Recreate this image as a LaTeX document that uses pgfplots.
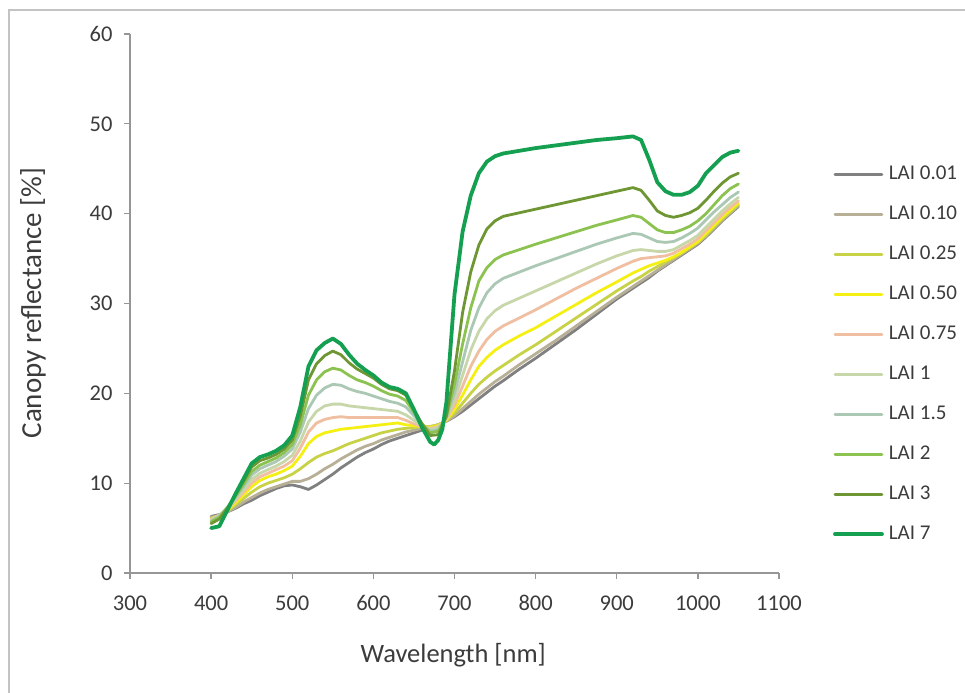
\documentclass[border=0pt]{standalone}
\usepackage{pgfplots}
\pgfplotsset{compat=1.18}
\usepackage{pgfplotstable}
\usepackage{fontspec}
\setmainfont{Carlito}
\definecolor{txt}{RGB}{60,60,60}
\definecolor{axgray}{RGB}{150,150,150}
\definecolor{framegray}{RGB}{195,195,195}
\definecolor{cA}{RGB}{128,128,128}
\definecolor{cB}{RGB}{184,176,150}
\definecolor{cC}{RGB}{200,210,70}
\definecolor{cD}{RGB}{245,240,20}
\definecolor{cE}{RGB}{240,190,160}
\definecolor{cF}{RGB}{200,215,170}
\definecolor{cG}{RGB}{170,200,180}
\definecolor{cH}{RGB}{140,195,80}
\definecolor{cI}{RGB}{110,150,50}
\definecolor{cJ}{RGB}{20,160,80}

\pgfplotstableread{
wl   a     b     c     d     e     f     g     h     i
400  6.3   6.2   6.1   6.0   6.0   5.9   5.8   5.7   5.5
410  6.5   6.4   6.4   6.4   6.4   6.4   6.3   6.2   6.0
420  6.8   6.8   6.9   7.0   7.1   7.2   7.3   7.3   7.2
430  7.2   7.3   7.6   7.8   8.0   8.2   8.4   8.5   8.7
440  7.7   7.9   8.3   8.7   9.0   9.3   9.6   9.9   10.2
450  8.1   8.4   9.0   9.6   10.0  10.4  10.9  11.3  11.8
460  8.6   8.9   9.6   10.3  10.7  11.1  11.6  12.0  12.5
470  9.0   9.3   10.0  10.7  11.1  11.5  12.0  12.4  12.8
480  9.4   9.6   10.3  11.0  11.5  11.9  12.4  12.8  13.2
490  9.7   9.9   10.6  11.4  11.9  12.4  13.0  13.4  13.8
500  9.8   10.2  11.0  11.9  12.5  13.1  13.8  14.3  14.8
510  9.6   10.2  11.6  13.0  13.9  14.7  15.7  16.5  17.5
520  9.3   10.5  12.3  14.4  15.7  16.8  18.3  19.8  21.5
530  9.8   11.0  12.9  15.2  16.7  18.0  19.8  21.5  23.3
540  10.4  11.6  13.3  15.6  17.1  18.6  20.6  22.4  24.2
550  11.0  12.1  13.6  15.8  17.3  18.8  21.0  22.8  24.7
560  11.7  12.7  14.0  16.0  17.4  18.8  20.9  22.6  24.3
570  12.3  13.2  14.4  16.1  17.3  18.6  20.5  22.0  23.4
580  12.9  13.7  14.7  16.2  17.3  18.5  20.2  21.5  22.7
590  13.4  14.1  15.0  16.3  17.3  18.4  20.0  21.2  22.2
600  13.8  14.4  15.3  16.4  17.3  18.3  19.7  20.8  21.7
610  14.3  14.8  15.6  16.5  17.3  18.2  19.4  20.3  21.0
620  14.7  15.1  15.8  16.6  17.3  18.1  19.1  19.9  20.5
630  15.0  15.4  16.0  16.7  17.3  18.0  18.9  19.7  20.3
640  15.3  15.7  16.1  16.5  17.0  17.6  18.5  19.2  19.8
650  15.6  15.9  16.2  16.4  16.6  17.0  17.5  17.9  18.2
660  15.9  16.1  16.3  16.3  16.3  16.4  16.5  16.6  16.6
670  16.2  16.3  16.3  16.2  16.1  16.0  15.8  15.6  15.3
680  16.5  16.5  16.5  16.4  16.3  16.2  16.0  15.8  15.4
690  16.9  16.9  17.0  17.0  17.1  17.2  17.3  17.4  17.5
700  17.4  17.5  17.8  18.2  18.7  19.3  20.0  21.0  22.5
710  18.0  18.3  18.9  19.8  20.8  22.0  23.5  25.5  29.0
720  18.7  19.1  20.0  21.5  23.0  24.8  27.0  29.5  33.5
730  19.4  19.9  21.0  23.0  24.7  26.9  29.5  32.5  36.5
740  20.1  20.6  21.8  24.0  26.0  28.3  31.2  34.0  38.3
750  20.8  21.3  22.5  24.8  26.9  29.2  32.2  34.9  39.2
760  21.4  21.9  23.1  25.4  27.5  29.8  32.8  35.4  39.7
780  22.7  23.2  24.3  26.4  28.4  30.6  33.5  36.0  40.1
800  23.9  24.4  25.4  27.3  29.3  31.4  34.2  36.6  40.5
825  25.5  25.9  26.9  28.6  30.5  32.4  35.0  37.3  41.0
850  27.1  27.5  28.4  29.9  31.7  33.4  35.8  38.0  41.5
875  28.8  29.1  29.9  31.2  32.8  34.4  36.6  38.7  42.0
900  30.5  30.7  31.4  32.4  33.9  35.3  37.3  39.3  42.5
920  31.7  31.9  32.5  33.4  34.7  35.9  37.8  39.8  42.9
930  32.3  32.5  33.0  33.8  35.0  36.0  37.7  39.6  42.6
940  32.9  33.1  33.6  34.2  35.1  35.9  37.3  38.9  41.5
950  33.6  33.7  34.1  34.5  35.2  35.8  36.9  38.2  40.3
960  34.2  34.3  34.6  34.8  35.3  35.8  36.8  37.9  39.8
970  34.8  34.9  35.1  35.2  35.6  36.0  36.9  37.9  39.6
980  35.4  35.5  35.6  35.7  36.1  36.5  37.3  38.2  39.8
990  36.0  36.1  36.2  36.3  36.6  37.0  37.8  38.6  40.1
1000 36.6  36.7  36.8  36.9  37.2  37.6  38.4  39.2  40.6
1010 37.4  37.5  37.6  37.8  38.1  38.5  39.3  40.0  41.5
1020 38.3  38.4  38.5  38.7  39.0  39.4  40.2  41.0  42.5
1030 39.2  39.3  39.4  39.6  39.9  40.3  41.0  42.0  43.4
1040 40.0  40.1  40.2  40.4  40.7  41.1  41.8  42.8  44.1
1050 40.8  40.9  41.0  41.2  41.4  41.8  42.4  43.3  44.5
}\lowlai

\pgfplotstableread{
wl   r
400  5.0
410  5.2
420  7.0
430  8.8
440  10.5
450  12.2
460  12.9
470  13.2
480  13.6
490  14.2
500  15.3
510  18.5
520  23.0
530  24.8
540  25.6
550  26.1
560  25.5
570  24.3
580  23.3
590  22.6
600  22.0
610  21.2
620  20.7
630  20.5
640  20.0
650  18.2
660  16.2
670  14.6
675  14.3
680  14.8
685  16.0
690  19.0
695  25.0
700  31.0
710  38.0
720  42.0
730  44.5
740  45.8
750  46.4
760  46.7
780  47.0
800  47.3
825  47.6
850  47.9
875  48.2
900  48.4
920  48.6
930  48.2
940  46.0
950  43.5
960  42.5
970  42.1
980  42.1
990  42.4
1000 43.1
1010 44.5
1020 45.4
1030 46.3
1040 46.8
1050 47.0
}\laiseven

\begin{document}
\begin{tikzpicture}
\useasboundingbox (0,0) rectangle (965bp,693bp);
\fill[white] (0,0) rectangle (965bp,693bp);
\draw[framegray, line width=1.5bp] (9bp,0) -- (9bp,683bp) -- (965bp,683bp);
\begin{axis}[
  at={(130bp,120bp)}, anchor=south west,
  scale only axis, width=649bp, height=539bp,
  xmin=300, xmax=1100, ymin=0, ymax=60,
  xtick={300,400,...,1100}, ytick={0,10,...,60},
  axis x line*=bottom, axis y line*=left,
  axis line style={axgray, line width=1.3bp},
  tick style={axgray, line width=1.3bp},
  tick align=outside, major tick length=6bp,
  /pgf/number format/assume math mode=true,
  /pgf/number format/1000 sep={},
  ticklabel style={font=\fontsize{22.5bp}{26bp}\selectfont, text=txt},
  xticklabel style={yshift=-13bp},
  yticklabel style={xshift=-8bp},
  xlabel={Wavelength [nm]},
  ylabel={Canopy reflectance [\%]},
  xlabel style={font=\fontsize{26.5bp}{30bp}\selectfont, text=txt, at={(axis description cs:0.498,-0.152)}, anchor=center},
  ylabel style={font=\fontsize{29bp}{33bp}\selectfont, text=txt, at={(axis description cs:-0.1495,0.501)}, anchor=center},
  legend style={draw=none, fill=none, at={(axis description cs:1.083,0.406)}, anchor=west,
    inner sep=0pt, row sep=20bp, column sep=5bp,
    font=\fontsize{21bp}{25bp}\selectfont, text=txt,
    nodes={inner sep=0pt, text height=15bp, text depth=5bp}},
  legend cell align=left,
  legend image code/.code={\draw[#1] (0bp,0bp) -- (47bp,0bp);},
  every axis plot/.append style={line join=round, line cap=round},
]
\addplot[cA, line width=2.8bp] table[x=wl, y=a] {\lowlai};
\addlegendentry{LAI 0.01}
\addplot[cB, line width=2.8bp] table[x=wl, y=b] {\lowlai};
\addlegendentry{LAI 0.10}
\addplot[cC, line width=2.8bp] table[x=wl, y=c] {\lowlai};
\addlegendentry{LAI 0.25}
\addplot[cD, line width=2.8bp] table[x=wl, y=d] {\lowlai};
\addlegendentry{LAI 0.50}
\addplot[cE, line width=2.8bp] table[x=wl, y=e] {\lowlai};
\addlegendentry{LAI 0.75}
\addplot[cF, line width=2.8bp] table[x=wl, y=f] {\lowlai};
\addlegendentry{LAI 1}
\addplot[cG, line width=2.8bp] table[x=wl, y=g] {\lowlai};
\addlegendentry{LAI 1.5}
\addplot[cH, line width=2.8bp] table[x=wl, y=h] {\lowlai};
\addlegendentry{LAI 2}
\addplot[cI, line width=2.8bp] table[x=wl, y=i] {\lowlai};
\addlegendentry{LAI 3}
\addplot[cJ, line width=3.8bp] table[x=wl, y=r] {\laiseven};
\addlegendentry{LAI 7}
\end{axis}
\end{tikzpicture}
\end{document}
